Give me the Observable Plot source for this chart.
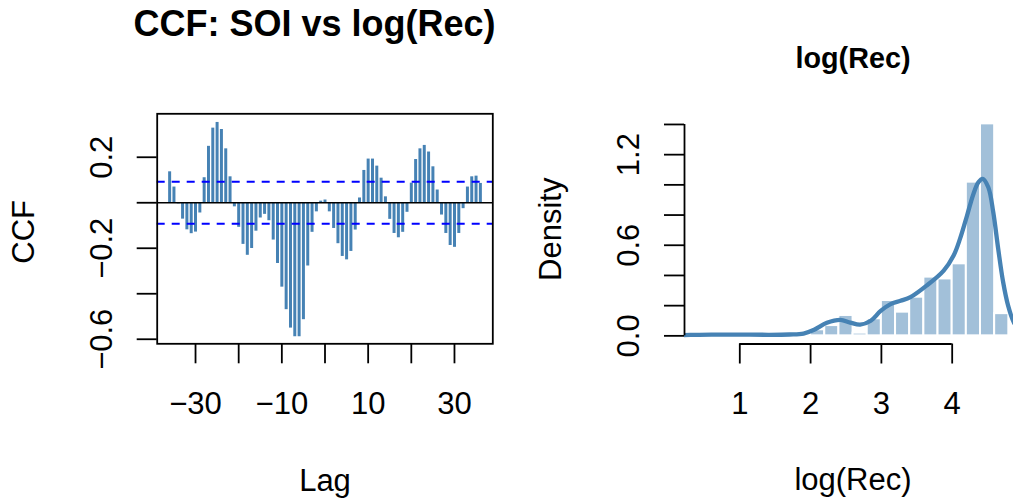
<!DOCTYPE html>
<html>
<head>
<meta charset="utf-8">
<script src="https://cdn.jsdelivr.net/npm/d3@7"></script>
<script src="https://cdn.jsdelivr.net/npm/@observablehq/plot@0.6"></script>
<style>
  html, body { margin: 0; padding: 0; background: #fff; }
  #wrap { position: relative; width: 1013px; height: 500px; overflow: hidden; font-family: "Liberation Sans", Arial, Helvetica, sans-serif; }
  #left, #right { position: absolute; top: 0; }
  #left { left: 0; }
  #right { left: 520px; }
  svg { overflow: visible; }
</style>
</head>
<body>
<div id="wrap"><div id="left"></div><div id="right"></div></div>
<script>
// ---- CCF panel data ----
const ccfLags = d3.range(-36, 37);
const ccfValues = [0.136,0.069,-0.005,-0.072,-0.119,-0.136,-0.129,-0.045,0.110,0.248,
  0.328,0.353,0.322,0.237,0.114,-0.018,-0.108,-0.183,-0.231,-0.201,
  -0.125,-0.067,-0.051,-0.079,-0.164,-0.267,-0.371,-0.470,-0.551,-0.589,
  -0.589,-0.514,-0.278,-0.130,-0.040,0.007,0.012,-0.040,-0.113,-0.180,
  -0.236,-0.251,-0.214,-0.120,0.021,0.142,0.192,0.192,0.161,0.108,
  0.026,-0.073,-0.135,-0.154,-0.130,-0.042,0.086,0.190,0.237,0.252,
  0.223,0.158,0.056,-0.054,-0.135,-0.188,-0.196,-0.135,-0.026,0.069,
  0.114,0.117,0.085];
const ccfCI = 0.0921;
const ccfYTicks = [-0.6, -0.4, -0.2, 0, 0.2];
const ccfYLabels = ["−0.6", "", "−0.2", "", "0.2"];
const ccfXTicks = [-30, -20, -10, 0, 10, 20, 30];
const ccfXLabels = ["−30", "", "−10", "", "10", "", "30"];

// ---- histogram / density panel data ----
const binStarts = [2.0,2.2,2.4,2.6,2.8,3.0,3.2,3.4,3.6,3.8,4.0,4.2,4.4,4.6];
const binWidth = 0.2;
const binDensity = [0.040,0.068,0.135,0.018,0.113,0.234,0.157,0.256,0.389,0.377,0.477,1.018,1.404,0.147];
const densX = [0.1,0.3,0.6,1.0,1.4,1.7,1.9,2.05,2.23,2.42,2.56,2.70,2.85,2.99,3.13,3.27,3.41,3.64,3.88,4.02,4.11,4.21,4.30,4.37,4.43,4.51,4.58,4.65,4.72,4.79,4.87,4.95];
const densY = [0.002,0.006,0.008,0.008,0.007,0.009,0.015,0.040,0.086,0.106,0.088,0.074,0.100,0.165,0.210,0.232,0.256,0.333,0.432,0.532,0.642,0.797,0.940,1.017,1.040,0.984,0.819,0.576,0.355,0.200,0.090,0.035];
const histYTicks = [0,0.2,0.4,0.6,0.8,1.0,1.2,1.4];
const histYLabels = ["0.0","","","0.6","","","1.2",""];
const histXTicks = [1,2,3,4];

const FONT = "Liberation Sans, Arial, Helvetica, sans-serif";
const FS = 31;

const ccfData = ccfLags.map((l, i) => ({lag: l, v: ccfValues[i]}));
const bins = binStarts.map((s, i) => ({x1: s, x2: s + binWidth, d: binDensity[i]}));
const dens = densX.map((x, i) => ({x, y: densY[i]}));

const ccfXDom = [-38.88, 38.88];
const ccfYDom = [-0.62, 0.391];

const left = Plot.plot({
  width: 510, height: 500,
  marginLeft: 156.7, marginRight: 17.7, marginTop: 113.3, marginBottom: 156.7,
  style: {fontFamily: FONT, fontSize: FS + "px", background: "transparent", color: "black"},
  x: {domain: ccfXDom},
  y: {domain: ccfYDom},
  marks: [
    Plot.ruleX(ccfData, {x: "lag", y1: 0, y2: "v", stroke: "steelblue", strokeWidth: 3}),
    Plot.ruleY([0], {stroke: "black", strokeWidth: 1.7}),
    Plot.ruleY([ccfCI, -ccfCI], {stroke: "#0000ff", strokeWidth: 2, strokeDasharray: "8,7"}),
    Plot.frame({stroke: "black", strokeWidth: 1.8}),
    Plot.axisY(ccfYTicks, {anchor: "left", tickSize: 20, tickRotate: -90, lineAnchor: "middle", tickPadding: 35,
      tickFormat: (d, i) => ccfYLabels[ccfYTicks.indexOf(d)], strokeWidth: 1.8, label: null, fontSize: FS}),
    Plot.axisX(ccfXTicks, {anchor: "bottom", tickSize: 20, tickPadding: 27.7,
      tickFormat: d => ccfXLabels[ccfXTicks.indexOf(d)], strokeWidth: 1.8, label: null, fontSize: FS}),
    Plot.text(["CCF: SOI vs log(Rec)"], {frameAnchor: "top", dx: -10.5, dy: -89.5, fontWeight: "bold", fontSize: 36, lineAnchor: "middle"}),
    Plot.text(["Lag"], {frameAnchor: "bottom", dy: 136.8, fontSize: FS, lineAnchor: "middle"}),
    Plot.text(["CCF"], {frameAnchor: "left", textAnchor: "middle", dx: -132.7, dy: 3, rotate: -90, fontSize: FS, lineAnchor: "middle"})
  ]
});
document.getElementById("left").appendChild(left);

const hXDom = [0.219, 4.866];
const hYDom = [-0.054, 1.466];

const right = Plot.plot({
  width: 493, height: 500,
  marginLeft: 164, marginRight: 0, marginTop: 114, marginBottom: 156.5,
  style: {fontFamily: FONT, fontSize: FS + "px", background: "transparent", color: "black"},
  x: {domain: hXDom},
  y: {domain: hYDom},
  marks: [
    Plot.rectY(bins, {x1: "x1", x2: "x2", y1: 0, y2: "d", fill: "steelblue", fillOpacity: 0.5, stroke: "white", strokeWidth: 2}),
    Plot.line(dens, {x: "x", y: "y", stroke: "steelblue", strokeWidth: 4.3, curve: "catmull-rom", clip: true}),
    Plot.ruleX([hXDom[0]], {y1: histYTicks[0], y2: histYTicks[histYTicks.length - 1], stroke: "black", strokeWidth: 1.8}),
    Plot.ruleY([hYDom[0]], {x1: histXTicks[0], x2: histXTicks[histXTicks.length - 1], stroke: "black", strokeWidth: 1.8}),
    Plot.axisY(histYTicks, {anchor: "left", tickSize: 20, tickRotate: -90, lineAnchor: "middle", tickPadding: 35,
      tickFormat: d => histYLabels[histYTicks.indexOf(d)], strokeWidth: 1.8, label: null, fontSize: FS}),
    Plot.axisX(histXTicks, {anchor: "bottom", tickSize: 20, tickPadding: 27.5,
      tickFormat: d => String(d), strokeWidth: 1.8, label: null, fontSize: FS}),
    Plot.text(["log(Rec)"], {frameAnchor: "top", dx: 4, dy: -55.5, fontWeight: "bold", fontSize: 28.75, lineAnchor: "middle"}),
    Plot.text(["log(Rec)"], {frameAnchor: "bottom", dx: 4, dy: 135.6, fontSize: FS, lineAnchor: "middle"}),
    Plot.text(["Density"], {frameAnchor: "left", textAnchor: "middle", dx: -133, rotate: -90, fontSize: FS, lineAnchor: "middle"})
  ]
});
document.getElementById("right").appendChild(right);
</script>
</body>
</html>
